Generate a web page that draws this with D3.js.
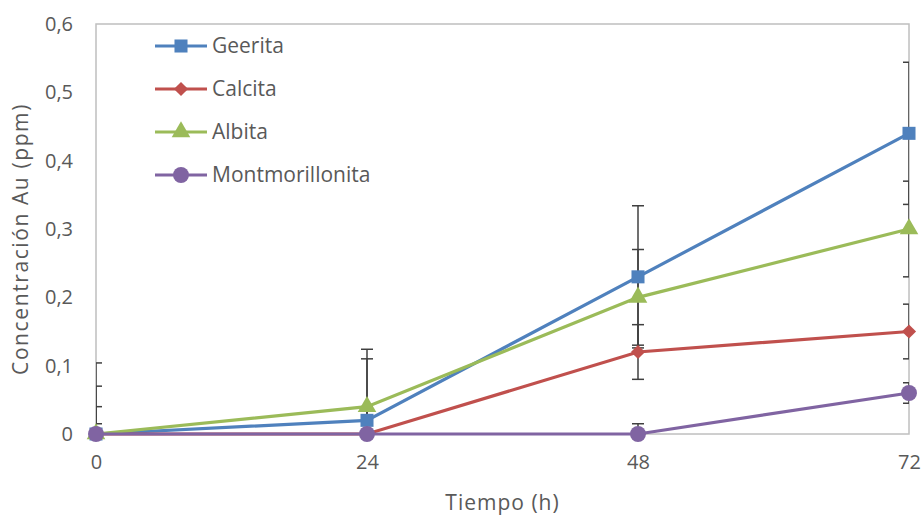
<!DOCTYPE html>
<html>
<head>
<meta charset="utf-8">
<title>Concentración Au</title>
<style>
  body { margin: 0; background: #fff; }
  text { font-family: "Open Sans", "Liberation Sans", sans-serif; fill: #595959; }
</style>
</head>
<body>
<div id="chart"></div>
<script src="https://cdn.jsdelivr.net/npm/d3@7/dist/d3.min.js"></script>
<script>
var hours = [0, 24, 48, 72];
var yTicks = [0, 0.1, 0.2, 0.3, 0.4, 0.5, 0.6];

var seriesNames = ["Geerita", "Calcita", "Albita", "Montmorillonita"];
var geerita = [0, 0.02, 0.23, 0.44];
var calcita = [0, 0, 0.12, 0.15];
var albita = [0, 0.04, 0.2, 0.3];
var montmorillonita = [0, 0, 0, 0.06];
// fixed error amount for each series
var errors = [0.104, 0.04, 0.07, 0.015];

var colors = ["#4F81BD", "#C0504D", "#9BBB59", "#8064A2"];
// the diamond is a square turned by 45 degrees
var symbols = [d3.symbolSquare, d3.symbolSquare, d3.symbolTriangle, d3.symbolCircle];
var symbolSizes = [170, 100, 150, 200];
var symbolRot = [0, 45, 0, 0];

var W = 924, H = 517;
var margin = {top: 24, right: 15, bottom: 83, left: 96};
var width = W - margin.left - margin.right,
    height = H - margin.top - margin.bottom;

var svg = d3.select("#chart").append("svg")
  .attr("width", W)
  .attr("height", H);

var g = svg.append("g")
  .attr("transform", "translate(" + margin.left + "," + margin.top + ")");

var x = d3.scaleLinear().domain([0, 72]).range([0, width]);
var y = d3.scaleLinear().domain([0, 0.6]).range([height, 0]);

var fmt = function(d) { return d === 0 ? "0" : d3.format(".1f")(d).replace(".", ","); };

// plot area border
g.append("rect")
  .attr("width", width)
  .attr("height", height)
  .attr("fill", "none")
  .attr("stroke", "#BFBFBF")
  .attr("stroke-width", 1.5);

// axes
var yAxis = g.append("g")
  .call(d3.axisLeft(y).tickValues(yTicks).tickFormat(fmt).tickSize(0).tickPadding(23));
yAxis.select(".domain").remove();
yAxis.selectAll("text").style("font-size", "20px").attr("fill", "#595959");

var xAxis = g.append("g")
  .attr("transform", "translate(0," + height + ")")
  .call(d3.axisBottom(x).tickValues(hours).tickSize(0).tickPadding(21));
xAxis.select(".domain").remove();
xAxis.selectAll("text").style("font-size", "20px").attr("fill", "#595959");

svg.append("text")
  .attr("transform", "translate(28," + (margin.top + height / 2 + 10) + ") rotate(-90)")
  .attr("text-anchor", "middle")
  .style("font-size", "21px")
  .style("letter-spacing", "1.6px")
  .text("Concentración Au (ppm)");

svg.append("text")
  .attr("x", margin.left + width / 2)
  .attr("y", 510)
  .attr("text-anchor", "middle")
  .style("font-size", "21px")
  .style("letter-spacing", "1px")
  .text("Tiempo (h)");

var data = [geerita, calcita, albita, montmorillonita].map(function(vals, i) {
  return {
    name: seriesNames[i],
    err: errors[i],
    values: vals.map(function(v, j) { return {t: hours[j], v: v}; })
  };
});

// error bars, clipped to the plot area
svg.append("defs").append("clipPath").attr("id", "plotClip")
  .append("rect").attr("width", width).attr("height", height + 1);

var errG = g.append("g").attr("clip-path", "url(#plotClip)");
data.forEach(function(s) {
  s.values.forEach(function(d) {
    var cx = x(d.t), y1 = y(d.v + s.err), y2 = y(d.v - s.err);
    errG.append("line")
      .attr("x1", cx).attr("x2", cx).attr("y1", y1).attr("y2", y2)
      .attr("stroke", "#404040").attr("stroke-width", 1.5);
    [y1, y2].forEach(function(yy) {
      errG.append("line")
        .attr("x1", cx - 6).attr("x2", cx + 6).attr("y1", yy).attr("y2", yy)
        .attr("stroke", "#404040").attr("stroke-width", 1.5);
    });
  });
});

var line = d3.line()
  .x(function(d) { return x(d.t); })
  .y(function(d) { return y(d.v); });

var series = g.selectAll(".series")
  .data(data)
  .enter().append("g")
  .attr("class", "series");

series.append("path")
  .attr("d", function(d) { return line(d.values); })
  .attr("fill", "none")
  .attr("stroke", function(d, i) { return colors[i]; })
  .attr("stroke-width", 3.2);

series.each(function(s, i) {
  d3.select(this).selectAll("path.marker")
    .data(s.values)
    .enter().append("path")
    .attr("class", "marker")
    .attr("d", d3.symbol().type(symbols[i]).size(symbolSizes[i]))
    .attr("transform", function(d) {
      return "translate(" + x(d.t) + "," + y(d.v) + ") rotate(" + symbolRot[i] + ")";
    })
    .attr("fill", colors[i]);
});

// legend
var legend = g.selectAll(".legend")
  .data(data)
  .enter().append("g")
  .attr("class", "legend")
  .attr("transform", function(d, i) { return "translate(59," + (22 + i * 43) + ")"; });

legend.append("line")
  .attr("x1", 0).attr("x2", 52)
  .attr("stroke", function(d, i) { return colors[i]; })
  .attr("stroke-width", 3.2);

legend.append("path")
  .attr("d", function(d, i) { return d3.symbol().type(symbols[i]).size(symbolSizes[i])(); })
  .attr("transform", function(d, i) { return "translate(26,0) rotate(" + symbolRot[i] + ")"; })
  .attr("fill", function(d, i) { return colors[i]; });

legend.append("text")
  .attr("x", 57)
  .attr("dy", "0.35em")
  .style("font-size", "21px")
  .text(function(d) { return d.name; });
</script>
</body>
</html>
